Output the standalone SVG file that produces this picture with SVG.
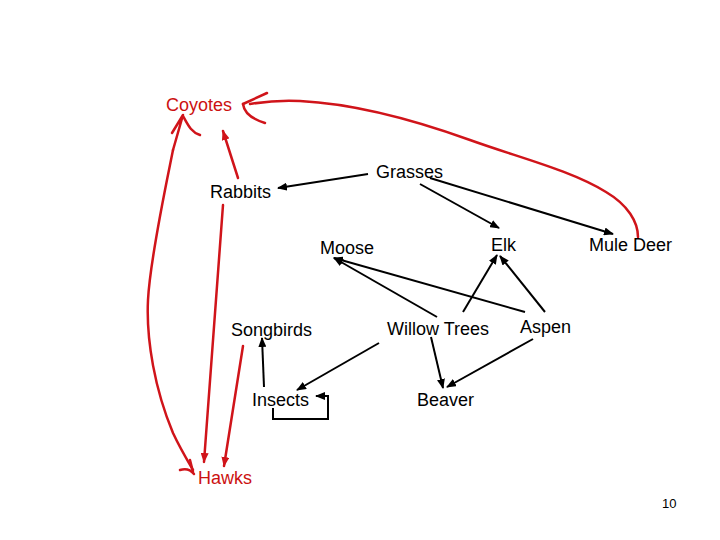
<svg xmlns="http://www.w3.org/2000/svg" width="720" height="540" viewBox="0 0 720 540">
<style>
text{font-family:"Liberation Sans",Arial,sans-serif;font-size:18px;fill:#000}
.red{fill:#cc1111}
.k{stroke:#000;stroke-width:2;fill:none;marker-end:url(#ah)}
.r{stroke:#d0141a;stroke-width:2.5;fill:none;stroke-linecap:round;stroke-linejoin:round}
.ra{marker-end:url(#rh)}
</style>
<defs>
<marker id="ah" markerWidth="10" markerHeight="8" refX="9" refY="4" orient="auto" markerUnits="userSpaceOnUse">
<path d="M0,0 L10,4 L0,8 z" fill="#000"/>
</marker>
<marker id="rh" markerWidth="10" markerHeight="8" refX="9" refY="4" orient="auto" markerUnits="userSpaceOnUse">
<path d="M0,0 L10,4 L0,8 z" fill="#d0141a"/>
</marker>
</defs>
<rect width="720" height="540" fill="#fff"/>
<g id="connectors">
<line class="k" x1="368" y1="174" x2="278" y2="188"/>
<line class="k" x1="420" y1="184" x2="499" y2="228"/>
<line class="k" x1="430" y1="178" x2="613" y2="234"/>
<line class="k" x1="437" y1="317" x2="334" y2="258"/>
<line class="k" x1="525" y1="312" x2="334" y2="258"/>
<line class="k" x1="463" y1="312" x2="497" y2="255"/>
<line class="k" x1="545" y1="312" x2="500" y2="256"/>
<line class="k" x1="379" y1="343" x2="297" y2="390"/>
<line class="k" x1="431" y1="337" x2="443" y2="388"/>
<line class="k" x1="533" y1="339" x2="447" y2="387"/>
<line class="k" x1="264" y1="387" x2="262" y2="338"/>
<polyline class="k" points="273,408 273,419 328,419 328,396 316,396"/>
<path class="r" d="M638,237 C638,222 628,205 606,192 C570,170 520,158 470,140 C420,122 360,104 300,101 C280,100 262,102 250,104"/>
<path class="r" stroke-width="4" d="M267,93 L243,104"/>
<path class="r" d="M243,104 C244,112 252,119 265,123"/>
<line class="r ra" x1="238" y1="178" x2="223" y2="131"/>
<path class="r" d="M173,150 C165,190 150,260 148,300 C146,340 155,390 173,433 C180,448 186,458 193,470"/>
<path class="r" stroke-width="3" d="M173,150 L183,115 L172,133"/>
<path class="r" d="M183,116 C188,125 191,132 200,135"/>
<path class="r" stroke-width="3" d="M193,472 L190,460"/>
<path class="r" d="M180,470 C186,468 190,469 194,474"/>
<line class="r ra" x1="223" y1="205" x2="204" y2="462"/>
<line class="r ra" x1="243" y1="346" x2="224" y2="466"/>
</g>
<g id="coyotes"><text class="red" x="166" y="111">Coyotes</text></g>
<g id="grasses"><text x="376" y="178">Grasses</text></g>
<g id="rabbits"><text x="210" y="198">Rabbits</text></g>
<g id="moose"><text x="320" y="254">Moose</text></g>
<g id="elk"><text x="491" y="251">Elk</text></g>
<g id="muledeer"><text x="589" y="251">Mule Deer</text></g>
<g id="songbirds"><text x="231" y="336">Songbirds</text></g>
<g id="willowtrees"><text x="387" y="335">Willow Trees</text></g>
<g id="aspen"><text x="520" y="333">Aspen</text></g>
<g id="insects"><text x="252" y="406">Insects</text></g>
<g id="beaver"><text x="417" y="406">Beaver</text></g>
<g id="hawks"><text class="red" x="198" y="484">Hawks</text></g>
<g id="page"><text x="662" y="508" style="font-size:13px">10</text></g>
</svg>
